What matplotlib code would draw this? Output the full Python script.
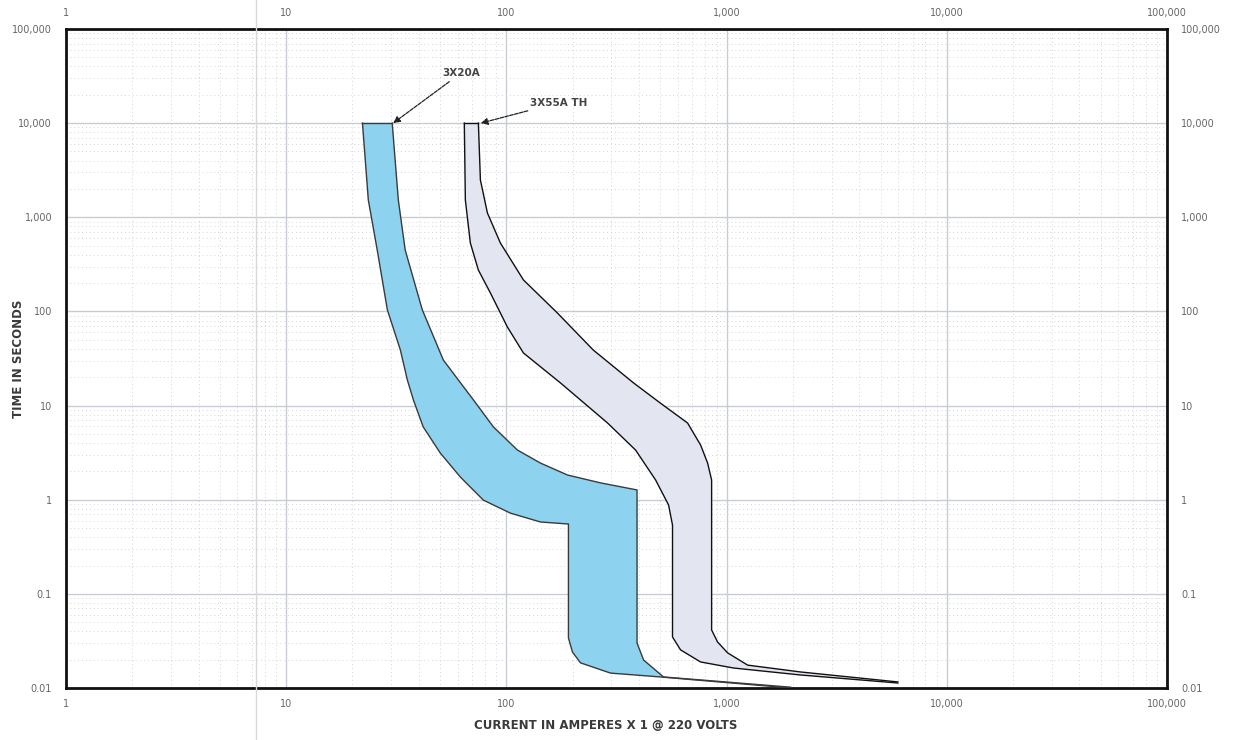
import matplotlib
matplotlib.use("Agg")
import matplotlib.pyplot as plt
from matplotlib.lines import Line2D
from matplotlib.ticker import FixedLocator, LogLocator, NullFormatter

# Axis tick values and labels
x_ticks = [1, 10, 100, 1000, 10000, 100000]
x_labels = ["1", "10", "100", "1,000", "10,000", "100,000"]
y_ticks = [0.01, 0.1, 1, 10, 100, 1000, 10000, 100000]
y_labels = ["0.01", "0.1", "1", "10", "100", "1,000", "10,000", "100,000"]

# 3X20A band: minimum (left) and maximum (right) curves, amps / seconds
b20_min_i = [22.2, 23.6, 25.9, 28.8, 33.0, 35.5, 37.8, 41.9, 50.1, 61.8, 78.6,
             104.3, 142.8, 191.3, 191.3, 199.5, 217, 297, 501, 1954]
b20_min_t = [10000, 1528, 450, 104, 38.9, 18.7, 11.5, 5.93, 3.13, 1.74, 0.99,
             0.72, 0.58, 0.552, 0.034, 0.0241, 0.0185, 0.0144, 0.0131, 0.0100]
b20_max_i = [30.3, 32.3, 34.7, 41.5, 51.7, 60.5, 70.8, 87.3, 112.2, 142.8,
             189.4, 267.4, 392, 392, 420, 517, 1954]
b20_max_t = [10000, 1528, 450, 104, 30.5, 18.7, 11.5, 5.93, 3.37, 2.45,
             1.83, 1.51, 1.27, 0.030, 0.0198, 0.0131, 0.0102]

# 3X55A TH band
b55_min_i = [64.4, 65.1, 68.6, 74.6, 84.6, 101, 119.5, 176, 288, 386, 476, 545,
             568, 568, 618, 762, 1076, 2169, 5990]
b55_min_t = [10000, 1528, 533, 275, 157, 68.4, 36.2, 17.4, 6.53, 3.37, 1.62,
             0.88, 0.538, 0.0348, 0.0254, 0.0189, 0.0163, 0.01375, 0.0113]
b55_max_i = [74.6, 76.2, 82, 93.9, 119.5, 170.5, 248, 378, 501, 665, 762, 820,
             855, 855, 910, 1011, 1246, 2169, 5990]
b55_max_t = [10000, 2490, 1111, 533, 216, 96.2, 38.9, 17.4, 10.6, 6.53, 3.81,
             2.45, 1.62, 0.0413, 0.0308, 0.0236, 0.0175, 0.0148, 0.0116]

fig = plt.figure(figsize=(12.44, 7.40), dpi=100)
ax = fig.add_axes([66/1244, 52/740, 1101/1244, 659/740])

ax.set_xscale("log")
ax.set_yscale("log")
ax.set_xlim(1, 100000)
ax.set_ylim(0.01, 100000)

# grid: solid major, dotted minor
ax.xaxis.set_minor_locator(LogLocator(base=10, subs=range(2, 10)))
ax.yaxis.set_minor_locator(LogLocator(base=10, subs=range(2, 10)))
ax.xaxis.set_minor_formatter(NullFormatter())
ax.yaxis.set_minor_formatter(NullFormatter())
ax.grid(True, which="major", color="#c9ccd3", lw=1.0, zorder=0)
ax.grid(True, which="minor", color="#d4d4d4", lw=0.7, ls=(0, (1, 3)), zorder=0)

# bands
def draw_band(lo_i, lo_t, hi_i, hi_t, face, edge):
    xs = lo_i + hi_i[::-1]
    ys = lo_t + hi_t[::-1]
    ax.fill(xs, ys, facecolor=face, edgecolor="none", zorder=2)
    ax.plot(lo_i, lo_t, color=edge, lw=1.0, zorder=3)
    ax.plot(hi_i, hi_t, color=edge, lw=1.0, zorder=3)
    ax.plot([lo_i[0], hi_i[0]], [lo_t[0], hi_t[0]], color=edge, lw=1.0, zorder=3)

draw_band(b20_min_i, b20_min_t, b20_max_i, b20_max_t, "#8dd3ef", "#3a3a3a")
draw_band(b55_min_i, b55_min_t, b55_max_i, b55_max_t, "#e3e5f1", "#111111")

# labels with arrows
arrow = dict(arrowstyle="-|>", color="#222222", lw=0.9, ls=(0, (3, 1)),
             mutation_scale=10, shrinkA=1, shrinkB=0)
ax.annotate("3X20A", xy=(30.6, 10000), xytext=(51, 34000),
            fontsize=7.5, color="#444444", fontweight="bold",
            ha="left", va="center", arrowprops=arrow, zorder=5)
ax.annotate("3X55A TH", xy=(76.5, 10000), xytext=(128, 16500),
            fontsize=7.5, color="#444444", fontweight="bold",
            ha="left", va="center", arrowprops=arrow, zorder=5)

# ticks on all four sides
ax.xaxis.set_major_locator(FixedLocator(x_ticks))
ax.yaxis.set_major_locator(FixedLocator(y_ticks))
ax.set_xticklabels(x_labels)
ax.set_yticklabels(y_labels)
ax.tick_params(which="both", length=0, labelsize=7, labelcolor="#666666",
               top=False, right=False, labeltop=True, labelright=True)
ax.tick_params(axis="x", pad=8)
ax.tick_params(axis="y", pad=10)

for s in ax.spines.values():
    s.set_linewidth(2.0)
    s.set_color("#111111")

ax.set_ylabel("TIME IN SECONDS", fontsize=8.5, fontweight="bold",
              color="#3a3a3a")
ax.yaxis.set_label_coords(-0.037, 0.5)
ax.set_xlabel("CURRENT IN AMPERES X 1 @ 220 VOLTS", fontsize=8.5,
              fontweight="bold", color="#3a3a3a")
ax.xaxis.set_label_coords(0.49, -0.047)

# faint vertical scan line crossing the page
fig.add_artist(Line2D([256/1244, 256/1244], [0, 1], color="#d8d8d8", lw=1.0))

fig.savefig("out.png", dpi=100)
